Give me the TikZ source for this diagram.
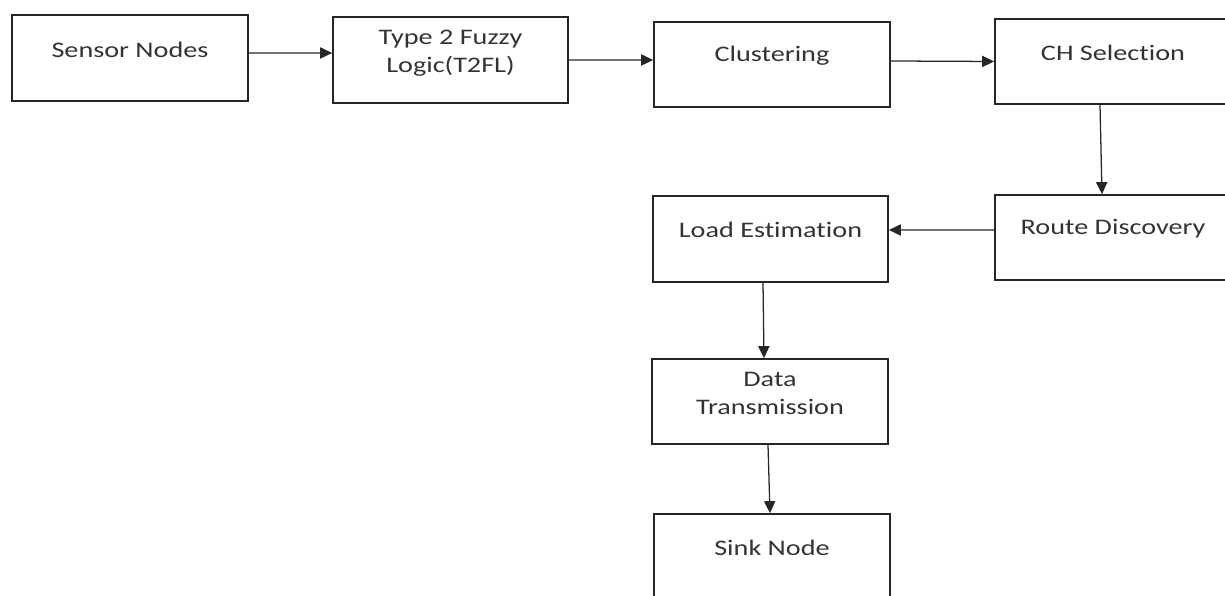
\documentclass[tikz,border=0pt]{standalone}
\usepackage{fontspec}
\setmainfont{Carlito}[FakeStretch=1.27, Ligatures=NoCommon]
\usepackage{tikz}
\usetikzlibrary{arrows.meta,positioning,calc}
\tikzset{
  stage/.style={rectangle, draw=black!85, line width=1.2pt, minimum width=5.9cm, minimum height=2.15cm, inner sep=0pt},
  stagetxt/.style={align=center, text=black!80, font=\fontsize{15.8}{19.9}\selectfont, inner sep=0pt},
  flow/.style={-{Triangle[length=3mm, width=2.8mm]}, line width=0.9pt, black!85}
}

\begin{document}
\begin{tikzpicture}[x=0.025cm, y=0.025cm]
    \useasboundingbox (0,0) rectangle (1225,596);
    \clip (0,0) rectangle (1225,596);

    % boxes
    \node[stage] (sensor) at (130,538) {};
    \node[stage, minimum width=5.875cm] (t2fl) at (450.5,536) {};
    \node[stage, minimum height=2.125cm] (clus) at (772,531.5) {};
    \node[stage, minimum height=2.125cm] (chsel) at (1113,534.5) {};
    \node[stage, minimum height=2.125cm] (route) at (1113,358.5) {};
    \node[stage, minimum width=5.875cm] (load) at (770.5,357) {};
    \node[stage, minimum height=2.125cm] (data) at (770,194.5) {};
    \node[stage] (sink) at (772,39) {};

    % texts
    \node[stagetxt] (sensortxt) at ([yshift=0.21cm]sensor.center) {Sensor Nodes};
    \node[stagetxt] (t2fltxt) at ([yshift=0.18cm]t2fl.center) {Type 2 Fuzzy\\Logic(T2FL)};
    \node[stagetxt] (clustxt) at ([yshift=0.21cm]clus.center) {Clustering};
    \node[stagetxt] (chseltxt) at ([yshift=0.21cm]chsel.center) {CH Selection};
    \node[stagetxt] (routetxt) at ([yshift=0.23cm]route.center) {Route Discovery};
    \node[stagetxt] (loadtxt) at ([yshift=0.22cm]load.center) {Load Estimation};
    \node[stagetxt] (datatxt) at ([yshift=0.21cm]data.center) {Data\\Transmission};
    \node[stagetxt] (sinktxt) at ([yshift=0.22cm]sink.center) {Sink Node};

    % arrows
    \draw[flow] ([yshift=0.125cm]sensor.east) -- ([yshift=0.175cm]t2fl.west);
    \draw[flow] (t2fl.east) -- ([yshift=0.1125cm]clus.west);
    \draw[flow] ([yshift=0.0875cm]clus.east) -- (chsel.west);
    \draw[flow] ([xshift=-0.325cm]chsel.south) -- ([xshift=-0.275cm]route.north);
    \draw[flow] ([yshift=0.1875cm]route.west) -- ([yshift=0.225cm]load.east);
    \draw[flow] ([xshift=-0.1875cm]load.south) -- ([xshift=-0.15cm]data.north);
    \draw[flow] ([xshift=-0.05cm]data.south) -- ([xshift=-0.05cm]sink.north);
\end{tikzpicture}
\end{document}
